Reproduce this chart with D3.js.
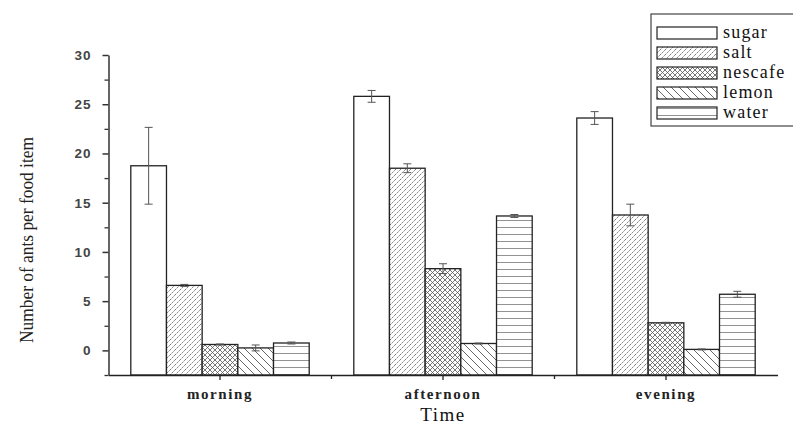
<!DOCTYPE html>
<html>
<head>
<meta charset="utf-8">
<script src="https://cdn.jsdelivr.net/npm/d3@7"></script>
<style>
  body { margin: 0; background: #fff; }
  svg { display: block; }
</style>
</head>
<body>
<svg id="chart" width="793" height="427"></svg>
<script>
const times = ["morning", "afternoon", "evening"];
const foods = ["sugar", "salt", "nescafe", "lemon", "water"];
const sugar = [18.75, 25.8, 23.6];
const salt = [6.6, 18.5, 13.75];
const nescafe = [0.6, 8.3, 2.8];
const lemon = [0.25, 0.7, 0.1];
const water = [0.75, 13.65, 5.7];
const sugarErr = [3.9, 0.6, 0.65];
const saltErr = [0.1, 0.45, 1.1];
const nescafeErr = [0.05, 0.5, 0.05];
const lemonErr = [0.3, 0.05, 0.05];
const waterErr = [0.1, 0.15, 0.3];
const yTicks = [0, 5, 10, 15, 20, 25, 30];

const values = [sugar, salt, nescafe, lemon, water];
const errs = [sugarErr, saltErr, nescafeErr, lemonErr, waterErr];

const svg = d3.select("#chart");
const mLeft = 108.5, mRight = 777.5, mTop = 55, mBottom = 375;
const serif = "'Liberation Serif', 'Times New Roman', serif";

const x = d3.scaleBand().domain(times).range([mLeft, mRight]).paddingInner(0).paddingOuter(0);
const inner = d3.scaleBand().domain(foods).range([0, x.bandwidth() * 0.8]);
const y = d3.scaleLinear().domain([-2.5, 30]).range([mBottom, mTop]);

// hatch patterns
const defs = svg.append("defs");
function hatch(id, size, draw) {
  const p = defs.append("pattern").attr("id", id).attr("patternUnits", "userSpaceOnUse")
    .attr("width", size).attr("height", size);
  p.append("rect").attr("width", size).attr("height", size).attr("fill", "#fff");
  draw(p, size);
}
hatch("salt", 5, (p, s) => {
  p.append("path").attr("d", `M0,${s} L${s},0 M${-s/2},${s/2} L${s/2},${-s/2} M${s/2},${s*1.5} L${s*1.5},${s/2}`)
    .attr("stroke", "#555").attr("stroke-width", 0.8).attr("stroke-dasharray", "2,1");
});
hatch("nescafe", 5, (p, s) => {
  p.append("path").attr("d", `M0,0 L${s},${s} M0,${s} L${s},0`)
    .attr("stroke", "#555").attr("stroke-width", 0.8);
});
hatch("lemon", 8, (p, s) => {
  p.append("path").attr("d", `M0,0 L${s},${s} M${-s/2},${s/2} L${s/2},${s*1.5} M${s/2},${-s/2} L${s*1.5},${s/2}`)
    .attr("stroke", "#444").attr("stroke-width", 0.8);
});
hatch("water", 7, (p, s) => {
  p.append("path").attr("d", `M0,${s/2} L${s},${s/2}`)
    .attr("stroke", "#777").attr("stroke-width", 0.8);
});
const fills = { sugar: "#fff", salt: "url(#salt)", nescafe: "url(#nescafe)", lemon: "url(#lemon)", water: "url(#water)" };

// bars
const data = [];
times.forEach((t, i) => foods.forEach((f, j) => data.push({ t, f, v: values[j][i], e: errs[j][i] })));
const off = x.bandwidth() * 0.1;

svg.append("g").selectAll("rect").data(data).join("rect")
  .attr("x", d => x(d.t) + off + inner(d.f))
  .attr("y", d => y(d.v))
  .attr("width", inner.bandwidth())
  .attr("height", d => y(-2.5) - y(d.v))
  .attr("fill", d => fills[d.f])
  .attr("stroke", "#222").attr("stroke-width", 1.3);

// error bars
const eb = svg.append("g").attr("stroke", "#555").attr("stroke-width", 1);
data.forEach(d => {
  const cx = x(d.t) + off + inner(d.f) + inner.bandwidth() / 2;
  eb.append("line").attr("x1", cx).attr("x2", cx).attr("y1", y(d.v + d.e)).attr("y2", y(d.v - d.e));
  eb.append("line").attr("x1", cx - 4).attr("x2", cx + 4).attr("y1", y(d.v + d.e)).attr("y2", y(d.v + d.e));
  eb.append("line").attr("x1", cx - 4).attr("x2", cx + 4).attr("y1", y(d.v - d.e)).attr("y2", y(d.v - d.e));
});

// y axis
const yAxis = svg.append("g").attr("transform", `translate(${mLeft},0)`)
  .call(d3.axisLeft(y).tickValues(yTicks).tickSize(6).tickPadding(11).tickSizeOuter(0));
yAxis.selectAll(".tick text").attr("font-family", "'Liberation Sans', Arial, sans-serif")
  .attr("font-size", 13.5).attr("font-weight", "bold").attr("letter-spacing", 1).attr("fill", "#444");
yAxis.select(".domain").attr("stroke", "#333").attr("stroke-width", 1.5);
yAxis.selectAll(".tick line").attr("stroke", "#333").attr("stroke-width", 1.5);
svg.append("g").attr("transform", `translate(${mLeft},0)`)
  .call(d3.axisLeft(y).tickValues(d3.range(-2.5, 30, 5)).tickSize(4).tickFormat(""))
  .call(g => g.select(".domain").remove())
  .selectAll("line").attr("stroke", "#333").attr("stroke-width", 1.3);

// x axis
const xAxis = svg.append("g").attr("transform", `translate(0,${mBottom})`)
  .call(d3.axisBottom(x).tickSize(5).tickPadding(8).tickSizeOuter(0));
xAxis.select(".domain").attr("stroke", "#222").attr("stroke-width", 1.5);
xAxis.selectAll(".tick line").attr("stroke", "#222").attr("stroke-width", 1.3);
xAxis.selectAll(".tick text").attr("font-family", serif)
  .attr("font-size", 15).attr("font-weight", "bold").attr("letter-spacing", 1.6).attr("fill", "#222");
svg.append("g").selectAll("line").data(times.slice(1)).join("line")
  .attr("x1", d => x(d)).attr("x2", d => x(d))
  .attr("y1", mBottom).attr("y2", mBottom + 4)
  .attr("stroke", "#222").attr("stroke-width", 1.3);

// axis titles
svg.append("text").attr("x", 443).attr("y", 421).attr("text-anchor", "middle")
  .attr("font-family", serif).attr("font-size", 19)
  .attr("letter-spacing", 1.5).attr("fill", "#111").text("Time");
svg.append("text").attr("transform", "translate(33,240) rotate(-90)").attr("text-anchor", "middle")
  .attr("font-family", serif).attr("font-size", 18)
  .attr("textLength", 206).attr("lengthAdjust", "spacingAndGlyphs")
  .attr("fill", "#222").text("Number of ants per food item");

// legend
const lg = svg.append("g");
lg.append("rect").attr("x", 651).attr("y", 14).attr("width", 160).attr("height", 112)
  .attr("fill", "#fff").attr("stroke", "#444").attr("stroke-width", 1.2);
const ly = d3.scalePoint().domain(foods).range([33, 113]);
lg.selectAll("rect.sw").data(foods).join("rect").attr("class", "sw")
  .attr("x", 657).attr("y", d => ly(d) - 6).attr("width", 60).attr("height", 12)
  .attr("fill", d => fills[d]).attr("stroke", "#222").attr("stroke-width", 1.2);
lg.selectAll("text").data(foods).join("text")
  .attr("x", 723).attr("y", d => ly(d) + 5)
  .attr("font-family", serif).attr("font-size", 18)
  .attr("letter-spacing", 1.2).attr("fill", "#111").text(d => d);
</script>
</body>
</html>
